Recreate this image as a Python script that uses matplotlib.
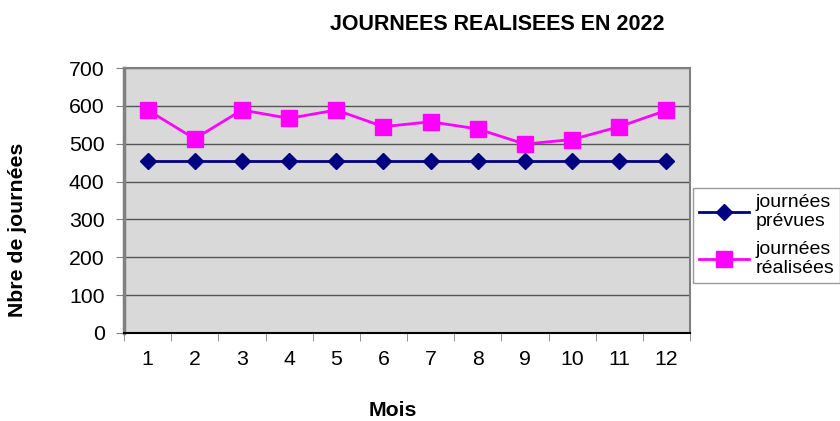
import matplotlib.pyplot as plt

# données
mois = [1, 2, 3, 4, 5, 6, 7, 8, 9, 10, 11, 12]
prevues = [455, 455, 455, 455, 455, 455, 455, 455, 455, 455, 455, 455]
realisees = [589, 513, 589, 567, 589, 545, 558, 539, 499, 511, 545, 588]

plt.rcParams['font.family'] = ['Liberation Sans', 'DejaVu Sans']

fig = plt.figure(figsize=(8.4, 4.21), dpi=100)
ax = fig.add_axes([124 / 840, 1 - 333 / 421, 566 / 840, 265 / 421])
ax.set_facecolor('#D9D9D9')

ax.plot(mois, prevues, color='#000080', lw=2, marker='D', ms=8,
        label='journées\nprévues', zorder=3)
ax.plot(mois, realisees, color='#FF00FF', lw=2, marker='s', ms=11,
        label='journées\nréalisées', zorder=3)

ax.set_xlim(0.5, 12.5)
ax.set_ylim(0, 700)
ax.set_yticks(range(0, 701, 100))
ax.yaxis.grid(True, color='#555555', lw=1)
ax.set_axisbelow(True)

ax.set_xticks(mois)
ax.set_xticks([m + 0.5 for m in range(0, 12)] + [12.5], minor=True)
ax.tick_params(axis='x', which='major', length=0, pad=12, labelsize=15.3)
ax.tick_params(axis='x', which='minor', length=6, color='#808080')
ax.tick_params(axis='y', length=6, color='#808080', labelsize=15.3, pad=8)

for side in ['top', 'right']:
    ax.spines[side].set_color('#808080')
    ax.spines[side].set_linewidth(1.5)
ax.spines['left'].set_color('#808080')
ax.spines['left'].set_linewidth(2.5)
ax.spines['bottom'].set_color('black')
ax.spines['bottom'].set_linewidth(1.5)

fig.text(497 / 840, 1 - 25 / 421, 'JOURNEES REALISEES EN 2022', ha='center',
         va='center', fontsize=15.5, fontweight='bold')
fig.text(18 / 840, 1 - 230 / 421, 'Nbre de journées', rotation=90, ha='center',
         va='center', fontsize=15.3, fontweight='bold')
fig.text(393 / 840, 1 - 411 / 421, 'Mois', ha='center', va='center',
         fontsize=15.3, fontweight='bold')

leg = ax.legend(loc='center left', bbox_to_anchor=(693 / 840, 1 - 235.5 / 421),
                bbox_transform=fig.transFigure, fontsize=14, frameon=True,
                fancybox=False, edgecolor='#808080', handlelength=2.6,
                handletextpad=0.3, borderpad=0.3, labelspacing=0.55,
                borderaxespad=0)
leg.get_frame().set_linewidth(1)

fig.savefig('out.png', dpi=100)
